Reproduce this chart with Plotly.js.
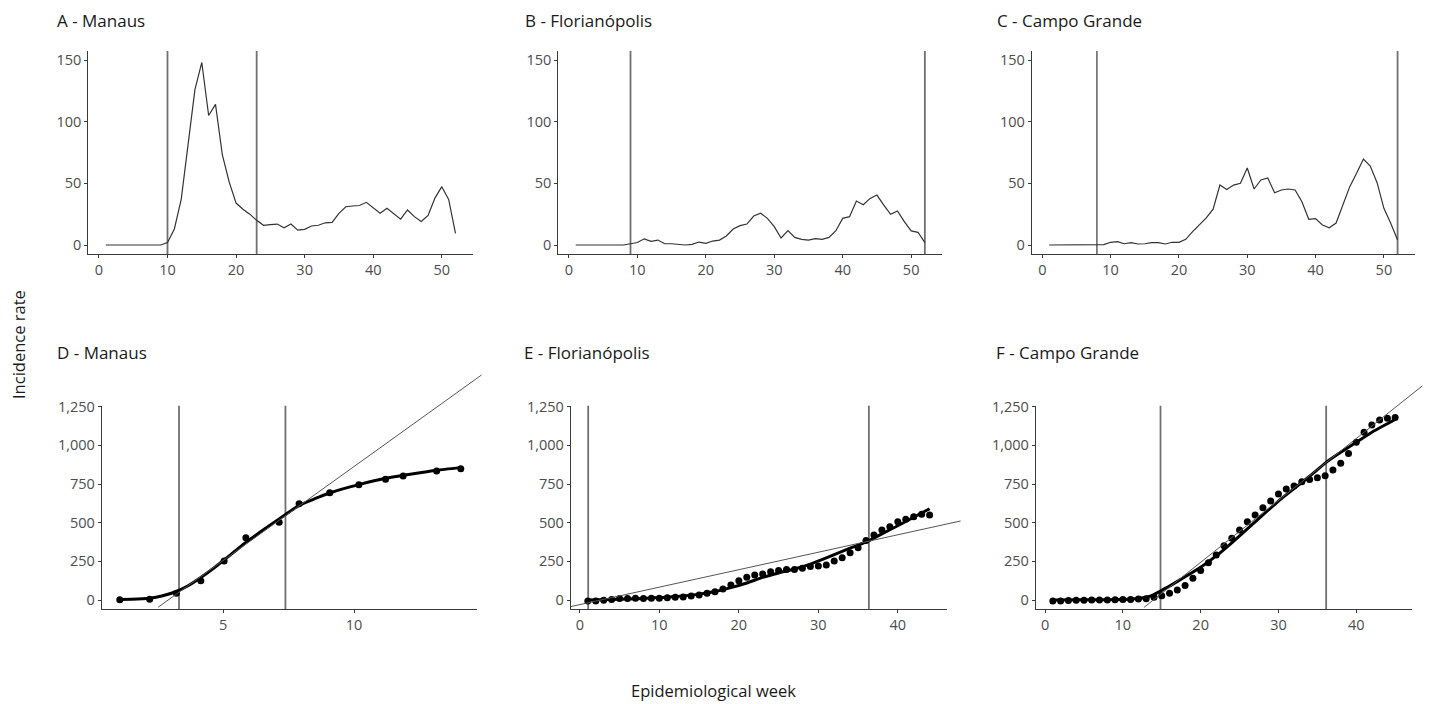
<!DOCTYPE html>
<html><head><meta charset="utf-8">
<script src="https://cdn.plot.ly/plotly-3.0.1.min.js"></script>
<style>html,body{margin:0;padding:0;background:#fff;}#chart{width:1429px;height:704px;}</style>
</head><body><div id="chart"></div>
<script>
// ---------------- DATA ----------------
const weeks = [1,2,3,4,5,6,7,8,9,10,11,12,13,14,15,16,17,18,19,20,21,22,23,24,25,26,27,28,29,30,31,32,33,34,35,36,37,38,39,40,41,42,43,44,45,46,47,48,49,50,51,52];
const incManaus = [0,0,0,0,0,0,0,0,0,2,13,37,80,126,148,105,114,73,51,34,29,25,20,16,16.5,17,14,17,12,12.7,15.4,16,18,18.4,25.7,31,31.6,32,34.6,30,25.7,29.7,25.7,21,28.4,23,19,24,38,47.3,37,9.5];
const incFloripa = [0,0,0,0,0,0,0,0,1,2,5,3,4,1,1,0.5,0,0.5,2.4,1.4,3.2,4,7.3,13,15.7,17,23.5,25.7,21.6,14.9,5.7,11.6,6.2,4.6,4,5.1,4.6,6.2,11.6,21.6,23,35.7,32.7,37.8,40.5,32.4,24.9,27.6,18.9,11.4,10.3,1.9];
const incCampo = [0,0,0,0,0,0,0,0,0.3,2.2,2.7,1,1.9,0.8,1,1.9,1.9,0.8,2.2,2.2,4.6,10.8,16.2,22,29,48.6,44.9,48.6,50,62.4,45.4,52.7,54.3,42.4,44.6,45.4,44.6,35.1,20.8,21.4,16.2,14,17.8,31.9,47.3,58.1,69.7,64,50.5,29.7,17.6,4];
const vlinesTop = {A:[10,23], B:[9,52], C:[8,52]};

// cumulative, Manaus
const cumManausX = [1.06,2.2,3.22,4.15,5.04,5.87,7.14,7.9,9.07,10.18,11.2,11.87,13.15,14.07];
const cumManausY = [2,5,43,125,252,403,502,623,694,746,781,802,834,849];
const fitManausX = [1.06,1.5,2.2,2.7,3.22,3.7,4.15,4.6,5.04,5.45,5.87,6.3,6.72,7.36,7.9,8.5,9.07,9.6,10.18,11.2,12.2,13.15,14.07];
const fitManausY = [4,5,12,28,55,95,145,200,259,315,372,425,476,550,612,655,692,720,746,787,815,839,856];
const lineManausX = [2.52,14.86];
const lineManausY = [-47,1455];

// cumulative, Florianópolis
const cumFloripaX = [1,2,3,4,5,6,7,8,9,10,11,12,13,14,15,16,17,18,19,20,21,22,23,24,25,26,27,28,29,30,31,32,33,34,35,36,37,38,39,40,41,42,43,44];
const cumFloripaY = [-6,-6,-2,4,9,9,11,9,11,11,15,17,19,26,32,43,54,71,97,125,147,162,168,183,190,198,198,205,216,220,226,252,274,306,338,384,420,453,474,506,522,539,555,550];
const fitFloripaX = [1,4,8,12,15,17,19,21,23,25,27,29,31,33,35,36.4,38,40,42,44];
const fitFloripaY = [0,3,10,22,38,55,80,110,146,175,200,232,272,315,355,384,428,480,535,590];
const lineFloripaX = [-1.17,47.9];
const lineFloripaY = [-43,511];

// cumulative, Campo Grande
const cumCampoX = [1,2,3,4,5,6,7,8,9,10,11,12,13,14,15,16,17,18,19,20,21,22,23,24,25,26,27,28,29,30,31,32,33,34,35,36,37,38,39,40,41,42,43,44,45];
const cumCampoY = [-6,-6,-4,-2,-2,0,0,0,2,4,4,6,8,18,27,43,65,93,141,191,241,291,351,399,453,506,550,597,640,686,718,737,765,780,791,804,840,884,948,1020,1084,1132,1164,1175,1181];
const fitCampoX = [1,5,10,12,13,14,14.84,16,18,20,22,24,26,28,30,32,34,36.13,38,40,42,44,45];
const fitCampoY = [0,1,4,10,18,35,58,90,150,212,285,370,460,550,640,720,800,890,955,1020,1085,1140,1168];
const lineCampoX = [12.74,48.48];
const lineCampoY = [-47,1384];
const vlinesBot = {D:[3.32,7.38], E:[1.05,36.36], F:[14.84,36.13]};

const titles = ['A - Manaus','B - Florianópolis','C - Campo Grande','D - Manaus','E - Florianópolis','F - Campo Grande'];
const topXTicks = [0,10,20,30,40,50];
const topYTicks = [0,50,100,150];
const manausXTicks = [5,10];
const botXTicks = [0,10,20,30,40];
const botYTicks = [0,250,500,750,1000,1250];

// ---------------- LAYOUT ----------------
const W = 1429, H = 704;
const FONT = '"Open Sans", "Noto Sans", sans-serif';
const TICKC = '#4d4d4d';
const fx = (a,b)=>[a/W, b/W];
const fy = (top,bot)=>[1-bot/H, 1-top/H];
const panelPx = {A:[88.3,473], B:[558.3,942.3], C:[1031.7,1415], D:[101.7,477.3], E:[570.7,946.7], F:[1035.7,1412.3]};
const topPy = [51,254], botPy = [405.7,609];
const xRanges = {A:[-1.55,54.55], B:[-1.55,54.55], C:[-1.55,54.55], D:[0.37,14.7], E:[-1.15,46.15], F:[-1.2,47.2]};
const topYRange = [-7.3,157.3], botYRange = [-58.2,1256.5];

function xax(dom, range, anchor, tickvals, tickformat){
  return {domain:dom, range:range, anchor:anchor, showgrid:false, zeroline:false, showline:true,
    linecolor:'#3a3a3a', linewidth:1, ticks:'outside', ticklen:3, tickcolor:'#3a3a3a', tickwidth:1,
    tickvals:tickvals, tickformat:tickformat||'', tickfont:{family:FONT,size:14.5,color:TICKC}, fixedrange:true};
}
const layout = {width:W, height:H, margin:{l:0,r:0,t:0,b:0}, paper_bgcolor:'#fff', plot_bgcolor:'rgba(0,0,0,0)',
  showlegend:false, font:{family:FONT}, shapes:[], annotations:[]};

const panels = ['A','B','C','D','E','F'];
panels.forEach((p,i)=>{
  const n = i+1;
  const isTop = i<3;
  const py = isTop ? topPy : botPy;
  const xt = isTop ? topXTicks : (p==='D' ? manausXTicks : botXTicks);
  const yt = isTop ? topYTicks : botYTicks;
  layout['xaxis'+n] = xax(fx(...panelPx[p]), xRanges[p], 'y'+n, xt);
  layout['yaxis'+n] = xax(fy(...py), isTop ? topYRange : botYRange, 'x'+n, yt, isTop ? '' : ',d');
});

// hidden extended axes so the straight reference lines can run past the panel (as in the original)
const extPanels = ['D','E','F'];
extPanels.forEach((p,k)=>{
  const n = 4+k, e = 7+k;
  const xd = layout['xaxis'+n].domain, yd = layout['yaxis'+n].domain;
  const xr = layout['xaxis'+n].range, yr = layout['yaxis'+n].range;
  const xd1 = Math.min(1, xd[1] + 40/W), yd1 = Math.min(1, yd[1] + 70/H);
  const xr1 = xr[0] + (xr[1]-xr[0])*(xd1-xd[0])/(xd[1]-xd[0]);
  const yr1 = yr[0] + (yr[1]-yr[0])*(yd1-yd[0])/(yd[1]-yd[0]);
  layout['xaxis'+e] = {domain:[xd[0],xd1], range:[xr[0],xr1], anchor:'y'+e, visible:false, fixedrange:true};
  layout['yaxis'+e] = {domain:[yd[0],yd1], range:[yr[0],yr1], anchor:'x'+e, visible:false, fixedrange:true};
});

// vertical lines
const vl = Object.assign({}, vlinesTop, vlinesBot);
panels.forEach((p,i)=>{
  vl[p].forEach((v,j)=>{
    const thin = (p==='C' && j===0);
    layout.shapes.push({type:'line', xref:'x'+(i+1), yref:'y'+(i+1)+' domain', x0:v, x1:v, y0:0, y1:1,
      line:{color: thin ? '#111' : '#707070', width: thin ? 1 : 1.8}, layer:'below'});
  });
});

// titles
const titlePos = [[55,20],[523,20],[995,20],[55,352],[522,352],[994,352]];
titles.forEach((t,i)=>{
  layout.annotations.push({text:t, xref:'paper', yref:'paper', x:titlePos[i][0]/W, y:1-titlePos[i][1]/H,
    xanchor:'left', yanchor:'middle', showarrow:false, font:{family:FONT, size:17, color:'#1a1a1a'}});
});
layout.annotations.push({text:'Incidence rate', xref:'paper', yref:'paper', x:19/W, y:1-345/H, textangle:-90,
  xanchor:'center', yanchor:'middle', showarrow:false, font:{family:FONT, size:16.5, color:'#1a1a1a'}});
layout.annotations.push({text:'Epidemiological week', xref:'paper', yref:'paper', x:713/W, y:1-690/H,
  xanchor:'center', yanchor:'middle', showarrow:false, font:{family:FONT, size:16.5, color:'#1a1a1a'}});

// ---------------- TRACES ----------------
const thinLine = {color:'#333', width:1.2};
const traces = [
  {x:weeks, y:incManaus, xaxis:'x', yaxis:'y', mode:'lines', line:thinLine},
  {x:weeks, y:incFloripa, xaxis:'x2', yaxis:'y2', mode:'lines', line:thinLine},
  {x:weeks, y:incCampo, xaxis:'x3', yaxis:'y3', mode:'lines', line:thinLine},
];
const cum = [
  [cumManausX,cumManausY,fitManausX,fitManausY,lineManausX,lineManausY],
  [cumFloripaX,cumFloripaY,fitFloripaX,fitFloripaY,lineFloripaX,lineFloripaY],
  [cumCampoX,cumCampoY,fitCampoX,fitCampoY,lineCampoX,lineCampoY],
];
cum.forEach((c,k)=>{
  const n = 4+k, e = 7+k;
  traces.push({x:c[0], y:c[1], xaxis:'x'+n, yaxis:'y'+n, mode:'markers', marker:{color:'#000', size:7}});
  traces.push({x:c[2], y:c[3], xaxis:'x'+n, yaxis:'y'+n, mode:'lines', line:{color:'#000', width:3, shape:'spline', smoothing:0.5}});
  traces.push({x:c[4], y:c[5], xaxis:'x'+e, yaxis:'y'+e, mode:'lines', line:{color:'#555', width:1}});
});

Plotly.newPlot('chart', traces, layout, {displayModeBar:false, staticPlot:true});
</script></body></html>
